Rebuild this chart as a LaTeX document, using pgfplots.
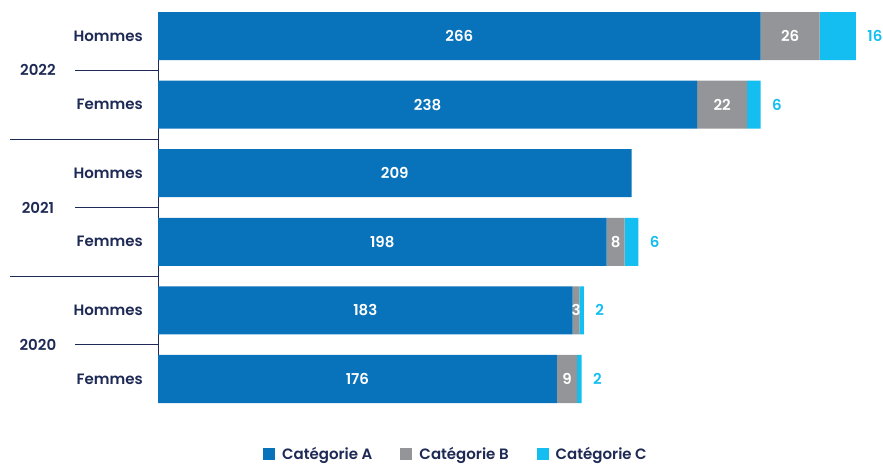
\documentclass[border=0pt]{standalone}
\usepackage{fontspec}
\setmainfont{Poppins}[BoldFont={Poppins SemiBold}]
\usepackage{pgfplots}
\usepackage{pgfplotstable}
\pgfplotsset{compat=1.18}
\definecolor{catA}{HTML}{0872BA}
\definecolor{catB}{HTML}{939598}
\definecolor{catC}{HTML}{14BEF0}
\definecolor{navy}{HTML}{1E2A55}

% rows from top: 2022 H, 2022 F, 2021 H, 2021 F, 2020 H, 2020 F
\pgfplotstableread{
y A B C
0 266 26 16
1 238 22 6
2 209 0 0
3 198 8 6
4 183 3 2
5 176 9 2
}\data

\newcommand{\lab}{\fontsize{15}{18}\selectfont}

\pgfplotsset{
  common/.style={
    at={(158pt,452pt)}, anchor=north west,
    scale only axis, width=725pt, height=391pt,
    xmin=0, xmax=320, ymin=-0.35, ymax=5.35,
    y dir=reverse,
  },
}

\begin{document}
\begin{tikzpicture}
\useasboundingbox (0,0) rectangle (883pt,464pt);
\begin{axis}[
    common,
    xbar stacked,
    bar width=0.7,
    axis x line=none,
    axis y line=left,
    y axis line style={-, draw=navy, line width=0.8pt},
    ytick={0,...,5},
    yticklabels={Hommes,Femmes,Hommes,Femmes,Hommes,Femmes},
    major tick length=0pt,
    yticklabel style={font=\lab\bfseries, text=navy, inner sep=0pt, xshift=-15pt},
    legend columns=3,
    legend style={at={(0.411,-0.130)}, anchor=center, draw=none,
      font=\lab\bfseries, text=navy,
      /tikz/every odd column/.append style={column sep=5pt},
      /tikz/every even column/.append style={column sep=26pt}},
    legend image code/.code={\fill[#1] (0pt,-6pt) rectangle (12pt,6pt);},
]
\addplot[fill=catA, draw=none] table[x=A, y=y]{\data};
\addlegendentry{Catégorie A}
\addplot[fill=catB, draw=none] table[x=B, y=y]{\data};
\addlegendentry{Catégorie B}
\addplot[fill=catC, draw=none] table[x=C, y=y]{\data};
\addlegendentry{Catégorie C}
\end{axis}

\begin{axis}[
    common,
    hide axis,
    clip=false,
    point meta=explicit symbolic,
    nodes near coords,
]
\addplot[draw=none, mark=none, nodes near coords style={anchor=center, text=white, font=\lab\bfseries}]
  table[x expr=\thisrow{A}/2, y=y, meta=A]{\data};
\addplot[draw=none, mark=none, nodes near coords style={anchor=center, text=white, font=\lab\bfseries},
  restrict expr to domain={\thisrow{B}}{0.5:1000}]
  table[x expr=\thisrow{A}+\thisrow{B}/2, y=y, meta=B]{\data};
\addplot[draw=none, mark=none, nodes near coords style={anchor=west, xshift=8pt, text=catC, font=\lab\bfseries},
  restrict expr to domain={\thisrow{C}}{0.5:1000}]
  table[x expr=\thisrow{A}+\thisrow{B}+\thisrow{C}, y=y, meta=C]{\data};

% year separators and labels
\draw[navy, line width=0.8pt] (axis cs:-36.6,0.5) -- (axis cs:0,0.5);
\draw[navy, line width=0.8pt] (axis cs:-36.6,2.5) -- (axis cs:0,2.5);
\draw[navy, line width=0.8pt] (axis cs:-36.6,4.5) -- (axis cs:0,4.5);
\draw[navy, line width=0.8pt] (axis cs:-65.3,1.5) -- (axis cs:0,1.5);
\draw[navy, line width=0.8pt] (axis cs:-65.3,3.5) -- (axis cs:0,3.5);
\node[text=navy, font=\lab\bfseries] at (axis cs:-53,0.5) {2022};
\node[text=navy, font=\lab\bfseries] at (axis cs:-53,2.5) {2021};
\node[text=navy, font=\lab\bfseries] at (axis cs:-53,4.5) {2020};
\end{axis}
\end{tikzpicture}
\end{document}
